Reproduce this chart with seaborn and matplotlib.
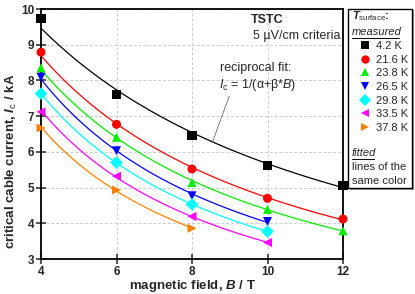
import numpy as np
import pandas as pd
import matplotlib
matplotlib.use("Agg")
import matplotlib.pyplot as plt
import seaborn as sns
from matplotlib.patches import Rectangle
from matplotlib.lines import Line2D

# measured critical currents (kA) vs magnetic field (T)
temps = ["4.2 K", "21.6 K", "23.8 K", "26.5 K", "29.8 K", "33.5 K", "37.8 K"]
field_42 = [4, 6, 8, 10, 12]
ic_42 = [9.73, 7.61, 6.46, 5.63, 5.06]
field_216 = [4, 6, 8, 10, 12]
ic_216 = [8.79, 6.77, 5.52, 4.70, 4.12]
field_238 = [4, 6, 8, 10, 12]
ic_238 = [8.35, 6.41, 5.14, 4.39, 3.79]
field_265 = [4, 6, 8, 10]
ic_265 = [8.09, 6.03, 4.77, 4.05]
field_298 = [4, 6, 8, 10]
ic_298 = [7.63, 5.70, 4.53, 3.77]
field_335 = [4, 6, 8, 10]
ic_335 = [7.12, 5.32, 4.19, 3.46]
field_378 = [4, 6, 8]
ic_378 = [6.67, 4.93, 3.86]

fields = [field_42, field_216, field_238, field_265, field_298, field_335, field_378]
currents = [ic_42, ic_216, ic_238, ic_265, ic_298, ic_335, ic_378]

colors = ["#000000", "#ff0000", "#00ee00", "#0000ff", "#00ffff", "#ff00ff", "#ff8000"]
markers = ["s", "o", "^", "v", "D", "<", ">"]

rows = []
for t, bs, ics in zip(temps, fields, currents):
    for b, i in zip(bs, ics):
        rows.append({"T": t, "B": b, "Ic": i})
df = pd.DataFrame(rows)

# reciprocal fit Ic = 1/(a + b*B) for every temperature
fit_rows = []
for t, bs, ics in zip(temps, fields, currents):
    slope, icpt = np.polyfit(bs, 1.0 / np.array(ics), 1)
    bb = np.linspace(bs[0], bs[-1], 100)
    for b in bb:
        fit_rows.append({"T": t, "B": b, "Ic": 1.0 / (icpt + slope * b)})
fit_df = pd.DataFrame(fit_rows)

sns.set_style("ticks")
plt.rcParams["font.family"] = ["Liberation Sans", "DejaVu Sans"]
plt.rcParams["mathtext.fontset"] = "custom"
plt.rcParams["mathtext.rm"] = "Liberation Sans"
plt.rcParams["mathtext.it"] = "Liberation Sans:italic"
plt.rcParams["mathtext.bf"] = "Liberation Sans:bold"
plt.rcParams["mathtext.bfit"] = "Liberation Sans:bold:italic"

fig = plt.figure(figsize=(4.15, 2.94), dpi=100)
ax = fig.add_axes([41 / 415, 1 - 259 / 294, 302 / 415, 250 / 294])

pal = dict(zip(temps, colors))
sns.lineplot(data=fit_df, x="B", y="Ic", hue="T", palette=pal, ax=ax,
             linewidth=0.9, legend=False, zorder=2)
sns.scatterplot(data=df, x="B", y="Ic", hue="T", style="T", palette=pal,
                markers=dict(zip(temps, markers)), s=42, edgecolor="none",
                ax=ax, legend=False, zorder=3, clip_on=False)

ax.set_xlim(4, 12)
ax.set_ylim(3, 10)
ax.set_xticks([4, 6, 8, 10, 12])
ax.set_yticks([3, 4, 5, 6, 7, 8, 9, 10])
ax.grid(True, linestyle=(0, (3, 2)), color="#cccccc", linewidth=0.7)
ax.set_axisbelow(True)
for s in ax.spines.values():
    s.set_linewidth(1.3)
    s.set_color("black")
ax.tick_params(direction="inout", length=7, width=1.1, labelsize=8.5, pad=1.5)
for lab in ax.get_xticklabels() + ax.get_yticklabels():
    lab.set_fontweight("bold")

ax.set_xlabel(r"magnetic field, $\mathbfit{B}$ / T", fontsize=9.5,
              fontweight="bold")
ax.set_ylabel(r"critical cable current, $\mathbfit{I}_{\mathrm{c}}$ / kA",
              fontsize=9.5, fontweight="bold")
ax.yaxis.set_label_coords(-0.072, 0.39)
ax.xaxis.set_label_coords(0.5, -0.078)

ax.text(0.75, 0.955, "TSTC", transform=ax.transAxes, fontsize=9,
        fontweight="bold", ha="center", va="center")
ax.text(0.993, 0.89, "5 µV/cm criteria", transform=ax.transAxes, fontsize=9,
        ha="right", va="center")
ax.text(9.7, 8.35, "reciprocal fit:", fontsize=9, ha="center", va="center")
ax.annotate(r"$I_{\mathrm{c}}$ = 1/(α+β*$B$)", xy=(8.55, 6.3), xytext=(9.75, 7.87),
            fontsize=9, ha="center", va="center",
            arrowprops=dict(arrowstyle="-", color="#555555", lw=0.6,
                            linestyle=(0, (2, 1)), shrinkA=0, shrinkB=0,
                            relpos=(0.15, 0.1)))

# legend box on the right
fig.add_artist(Rectangle((350 / 415, 1 - 190 / 294), 64 / 415, 180 / 294,
                         transform=fig.transFigure, facecolor="#999999",
                         edgecolor="none", zorder=3))
fig.add_artist(Rectangle((348 / 415, 1 - 188 / 294), 64 / 415, 179 / 294,
                         transform=fig.transFigure, facecolor="white",
                         edgecolor="black", linewidth=1.0, zorder=4))
fig.text(352 / 415, 1 - 16 / 294, r"$\mathbfit{T}_{\mathrm{surface}}$:",
         fontsize=8, fontweight="bold", va="center", zorder=5)
fig.text(352 / 415, 1 - 32 / 294, "measured", fontsize=8, style="italic",
         va="center", zorder=5)
fig.add_artist(Line2D([352 / 415, 399 / 415], [1 - 38 / 294, 1 - 38 / 294],
                      color="black", lw=0.7, zorder=5))
handles = [Line2D([], [], linestyle="none", marker=m, color=c, markersize=6,
                  markeredgewidth=0) for m, c in zip(markers, colors)]
leg = fig.legend(handles, temps, loc="upper left",
                 bbox_to_anchor=(359 / 415, 1 - 41 / 294), frameon=False,
                 fontsize=8, handlelength=1.0, handletextpad=0.5,
                 labelspacing=0.33, borderaxespad=0, borderpad=0)
leg.set_zorder(6)
fig.text(352 / 415, 1 - 153 / 294, "fitted", fontsize=8, style="italic",
         va="center", zorder=5)
fig.add_artist(Line2D([352 / 415, 374 / 415], [1 - 159 / 294, 1 - 159 / 294],
                      color="black", lw=0.7, zorder=5))
fig.text(352 / 415, 1 - 167 / 294, "lines of the", fontsize=8,
         va="center", zorder=5)
fig.text(352 / 415, 1 - 181 / 294, "same color", fontsize=8,
         va="center", zorder=5)

fig.savefig("out.png", dpi=100)
